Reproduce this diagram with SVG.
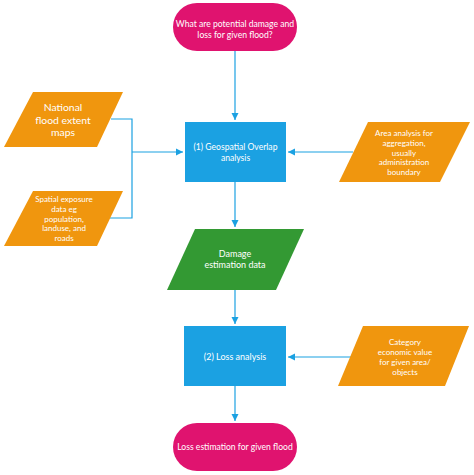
<svg xmlns="http://www.w3.org/2000/svg" width="474" height="475" viewBox="0 0 474 475">
<defs>
<marker id="ah" markerWidth="8" markerHeight="8" refX="7" refY="4" orient="auto" markerUnits="userSpaceOnUse">
<path d="M0,0.5 L7,4 L0,7.5 z" fill="#1BA1E2"/>
</marker>
<style>
.t{font-family:Lato,"Open Sans",sans-serif;fill:#fff;text-anchor:middle}
.s8{font-size:8px}
.s85{font-size:8.6px}
.s9{font-size:9px}
.s10{font-size:10.4px}
.mag{fill:#E0136F}
.ora{fill:#F0960E}
.blu{fill:#1BA1E2}
.grn{fill:#339933}
.c{fill:none;stroke:#1BA1E2;stroke-width:1.2}
</style>
</defs>
<rect width="474" height="475" fill="#fff"/>
<g id="connectors">
<path class="c" d="M111,119 H132 V218 H110"/>
<path class="c" d="M235,51 V120" marker-end="url(#ah)"/>
<path class="c" d="M132,152 H183" marker-end="url(#ah)"/>
<path class="c" d="M353,152 H288" marker-end="url(#ah)"/>
<path class="c" d="M235,182 V227" marker-end="url(#ah)"/>
<path class="c" d="M235,290 V324" marker-end="url(#ah)"/>
<path class="c" d="M353,357 H288" marker-end="url(#ah)"/>
<path class="c" d="M235,386 V421" marker-end="url(#ah)"/>
</g>
<g id="start">
<rect class="mag" x="173" y="3" width="124" height="48" rx="24"/>
<text class="t s85" x="235" y="27">What are potential damage and</text>
<text class="t s85" x="235" y="37.5">loss for given flood?</text>
</g>
<g id="flood-maps">
<polygon class="ora" points="33,92 123,92 97,147 4,147"/>
<text class="t s10" x="63" y="111">National</text>
<text class="t s10" x="63" y="123.5">flood extent</text>
<text class="t s10" x="63" y="136">maps</text>
</g>
<g id="exposure">
<polygon class="ora" points="33,191 123,191 97,246 4,246"/>
<text class="t s8" x="64" y="202">Spatial exposure</text>
<text class="t s8" x="64" y="211.8">data eg</text>
<text class="t s8" x="64" y="221.6">population,</text>
<text class="t s8" x="64" y="231.4">landuse, and</text>
<text class="t s8" x="64" y="241.2">roads</text>
</g>
<g id="overlap">
<rect class="blu" x="185" y="122" width="101" height="60"/>
<text class="t s85" x="235.5" y="150">(1) Geospatial Overlap</text>
<text class="t s85" x="235.5" y="160.5">analysis</text>
</g>
<g id="area">
<polygon class="ora" points="368,122 470,122 440,182 339,182"/>
<text class="t s8" x="404" y="136">Area analysis for</text>
<text class="t s8" x="404" y="145.8">aggregation,</text>
<text class="t s8" x="404" y="155.6">usually</text>
<text class="t s8" x="404" y="165.4">administration</text>
<text class="t s8" x="404" y="175.2">boundary</text>
</g>
<g id="damage">
<polygon class="grn" points="195,229 304,229 276,290 167,290"/>
<text class="t s9" x="235" y="257">Damage</text>
<text class="t s9" x="235" y="268.2">estimation data</text>
</g>
<g id="loss">
<rect class="blu" x="184" y="326" width="102" height="60"/>
<text class="t s9" x="235" y="360">(2) Loss analysis</text>
</g>
<g id="category">
<polygon class="ora" points="363,326 469,326 445,386 338,386"/>
<text class="t s8" x="405" y="345">Category</text>
<text class="t s8" x="405" y="355">economic value</text>
<text class="t s8" x="405" y="365">for given area/</text>
<text class="t s8" x="405" y="375">objects</text>
</g>
<g id="end">
<rect class="mag" x="173" y="423" width="124" height="48" rx="24"/>
<text class="t s85" x="235" y="450">Loss estimation for given flood</text>
</g>
</svg>
